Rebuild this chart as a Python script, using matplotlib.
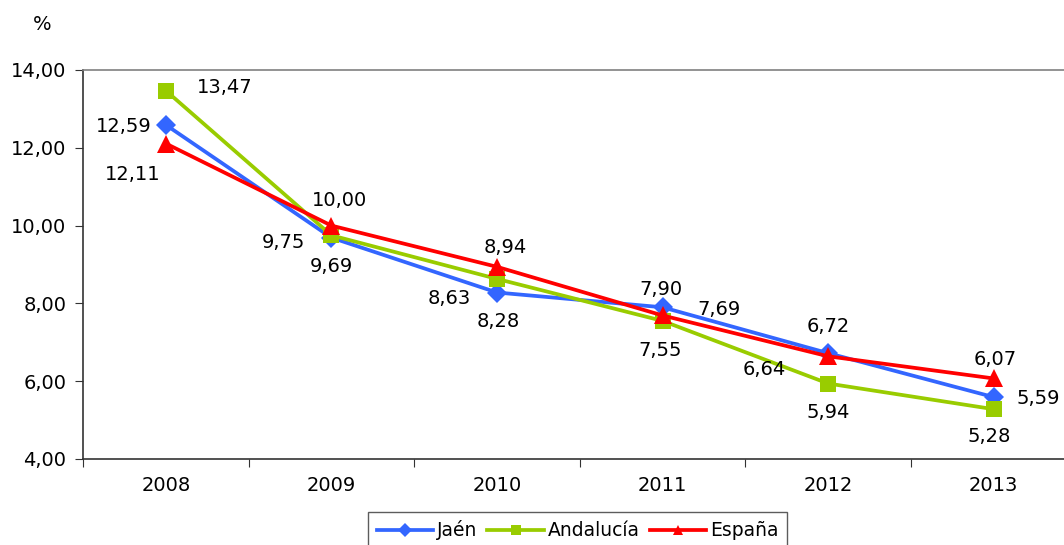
import matplotlib
matplotlib.use('Agg')
import matplotlib.pyplot as plt

# datos
years = ['2008', '2009', '2010', '2011', '2012', '2013']
jaen = [12.59, 9.69, 8.28, 7.90, 6.72, 5.59]
andalucia = [13.47, 9.75, 8.63, 7.55, 5.94, 5.28]
espana = [12.11, 10.00, 8.94, 7.69, 6.64, 6.07]
y_ticks = [4, 6, 8, 10, 12, 14]

# desplazamiento de etiquetas (pixeles)
off_jaen = [(-42, -2), (0, -29), (1, -29), (-2, 18), (0, 27), (44, -1)]
off_andalucia = [(59, 3), (-48, -7), (-48, -20), (-2, -30), (0, -29), (-5, -27)]
off_espana = [(-33, -31), (8, 25), (8, 19), (56, 6), (-64, -13), (1, 19)]

FS = 14

plt.rcParams['font.family'] = ['DejaVu Sans']

fig = plt.figure(figsize=(10.64, 5.45), dpi=100)
ax = fig.add_axes([83 / 1064, 1 - 459 / 545, (1076.6 - 83) / 1064, (459 - 70) / 545])

x = list(range(len(years)))
series = [
    ('Jaén', jaen, '#3366FF', 'D', 10.5, off_jaen),
    ('Andalucía', andalucia, '#99CC00', 's', 11.5, off_andalucia),
    ('España', espana, '#FF0000', '^', 12.5, off_espana),
]

for name, vals, col, mk, ms, offs in series:
    ax.plot(x, vals, color=col, lw=2.7, marker=mk, markersize=ms,
            markeredgewidth=0, label=name, clip_on=False, zorder=3)
    for xi, v, (dx, dy) in zip(x, vals, offs):
        ax.annotate(f'{v:.2f}'.replace('.', ','), (xi, v), xytext=(dx, dy),
                    textcoords='offset pixels', ha='center', va='center',
                    fontsize=FS, color='black', zorder=4)

ax.set_xlim(-0.5, 5.5)
ax.set_ylim(4, 14)
ax.set_yticks(y_ticks)
ax.set_yticklabels([f'{t:.2f}'.replace('.', ',') for t in y_ticks], fontsize=FS)
ax.set_xticks([i + 0.5 for i in range(-1, 6)])
ax.set_xticklabels([])
ax.set_xticks(x, minor=True)
ax.set_xticklabels(years, minor=True, fontsize=FS)
ax.tick_params(axis='x', which='minor', length=0, pad=12)
ax.tick_params(axis='x', which='major', length=6, direction='out', color='#333333')
ax.tick_params(axis='y', length=6, direction='out', color='#333333', pad=6)

for s in ['left', 'bottom']:
    ax.spines[s].set_color('#333333')
    ax.spines[s].set_linewidth(1.2)
ax.spines['top'].set_color('#808080')
ax.spines['top'].set_linewidth(1.2)
ax.spines['right'].set_visible(False)

fig.text(42 / 1064, 1 - 25 / 545, '%', fontsize=FS, ha='center', va='center')

leg = fig.legend(loc='upper center', bbox_to_anchor=(577.5 / 1064, 1 - 512 / 545),
                 ncol=3, fontsize=13.5, frameon=True, fancybox=False,
                 handlelength=3.0, handletextpad=0.2, columnspacing=0.55,
                 borderpad=0.45, borderaxespad=0)
leg.get_frame().set_edgecolor('#333333')
leg.get_frame().set_linewidth(1.0)
for h in leg.legend_handles:
    h.set_markersize(7.5)

fig.savefig('out.png', dpi=100)
